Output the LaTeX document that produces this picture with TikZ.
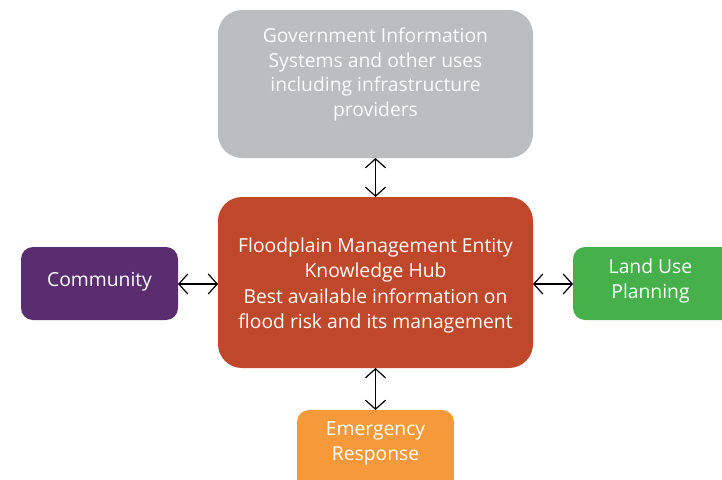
\documentclass[tikz,border=0pt]{standalone}
\usepackage{fontspec}
\setmainfont{Open Sans}
\usetikzlibrary{arrows.meta}
\definecolor{govgray}{HTML}{BCBDBF}
\definecolor{hubred}{HTML}{C0482A}
\definecolor{commpurple}{HTML}{5A2D6E}
\definecolor{landgreen}{HTML}{46B04A}
\definecolor{emerorange}{HTML}{F6993A}
\tikzset{
  box/.style={inner sep=0pt, align=center, text=white,
    font=\fontsize{19.3}{25.6}\selectfont},
  link/.style={draw=black, line width=1.2pt, {Straight Barb[length=9pt,width=20pt,line width=1.2pt]}-{Straight Barb[length=9pt,width=20pt,line width=1.2pt]}}
}
\begin{document}
\begin{tikzpicture}[x=1pt,y=-1pt]
\useasboundingbox (0,0) rectangle (722,479);
\fill[govgray, rounded corners=24pt] (218,10) rectangle (533,158);
\node[box, text=white!95!govgray, font=\fontsize{19.3}{24.8}\selectfont] (gov) at (375.5,74.5) {Government Information\\Systems and other uses\\including infrastructure\\providers};
\fill[hubred, rounded corners=24pt] (218,197) rectangle (533,368);
\node[box] (hub) at (375.5,285.5) {Floodplain Management Entity\\Knowledge Hub\\Best available information on\\flood risk and its management};
\fill[commpurple, rounded corners=12pt] (21,247) rectangle (178,320);
\node[box] (comm) at (99.5,282) {Community};
\fill[landgreen, rounded corners=12pt] (573,247) rectangle (738,320);
\node[box] (land) at (650.5,281) {Land Use\\Planning};
\fill[emerorange, rounded corners=12pt] (297,410) rectangle (454,492);
\node[box] (emer) at (375.5,443.5) {Emergency\\Response};
\coordinate (govS) at (375.5,158);
\coordinate (hubN) at (375.5,197);
\coordinate (hubS) at (375.5,368);
\coordinate (emerN) at (375.5,410);
\coordinate (hubW) at (218,284);
\coordinate (commE) at (178,284);
\coordinate (hubE) at (533,284);
\coordinate (landW) at (573,284);
\draw[link] (govS) -- (hubN);
\draw[link] (hubS) -- (emerN);
\draw[link] (commE) -- (hubW);
\draw[link] (hubE) -- (landW);
\end{tikzpicture}
\end{document}
